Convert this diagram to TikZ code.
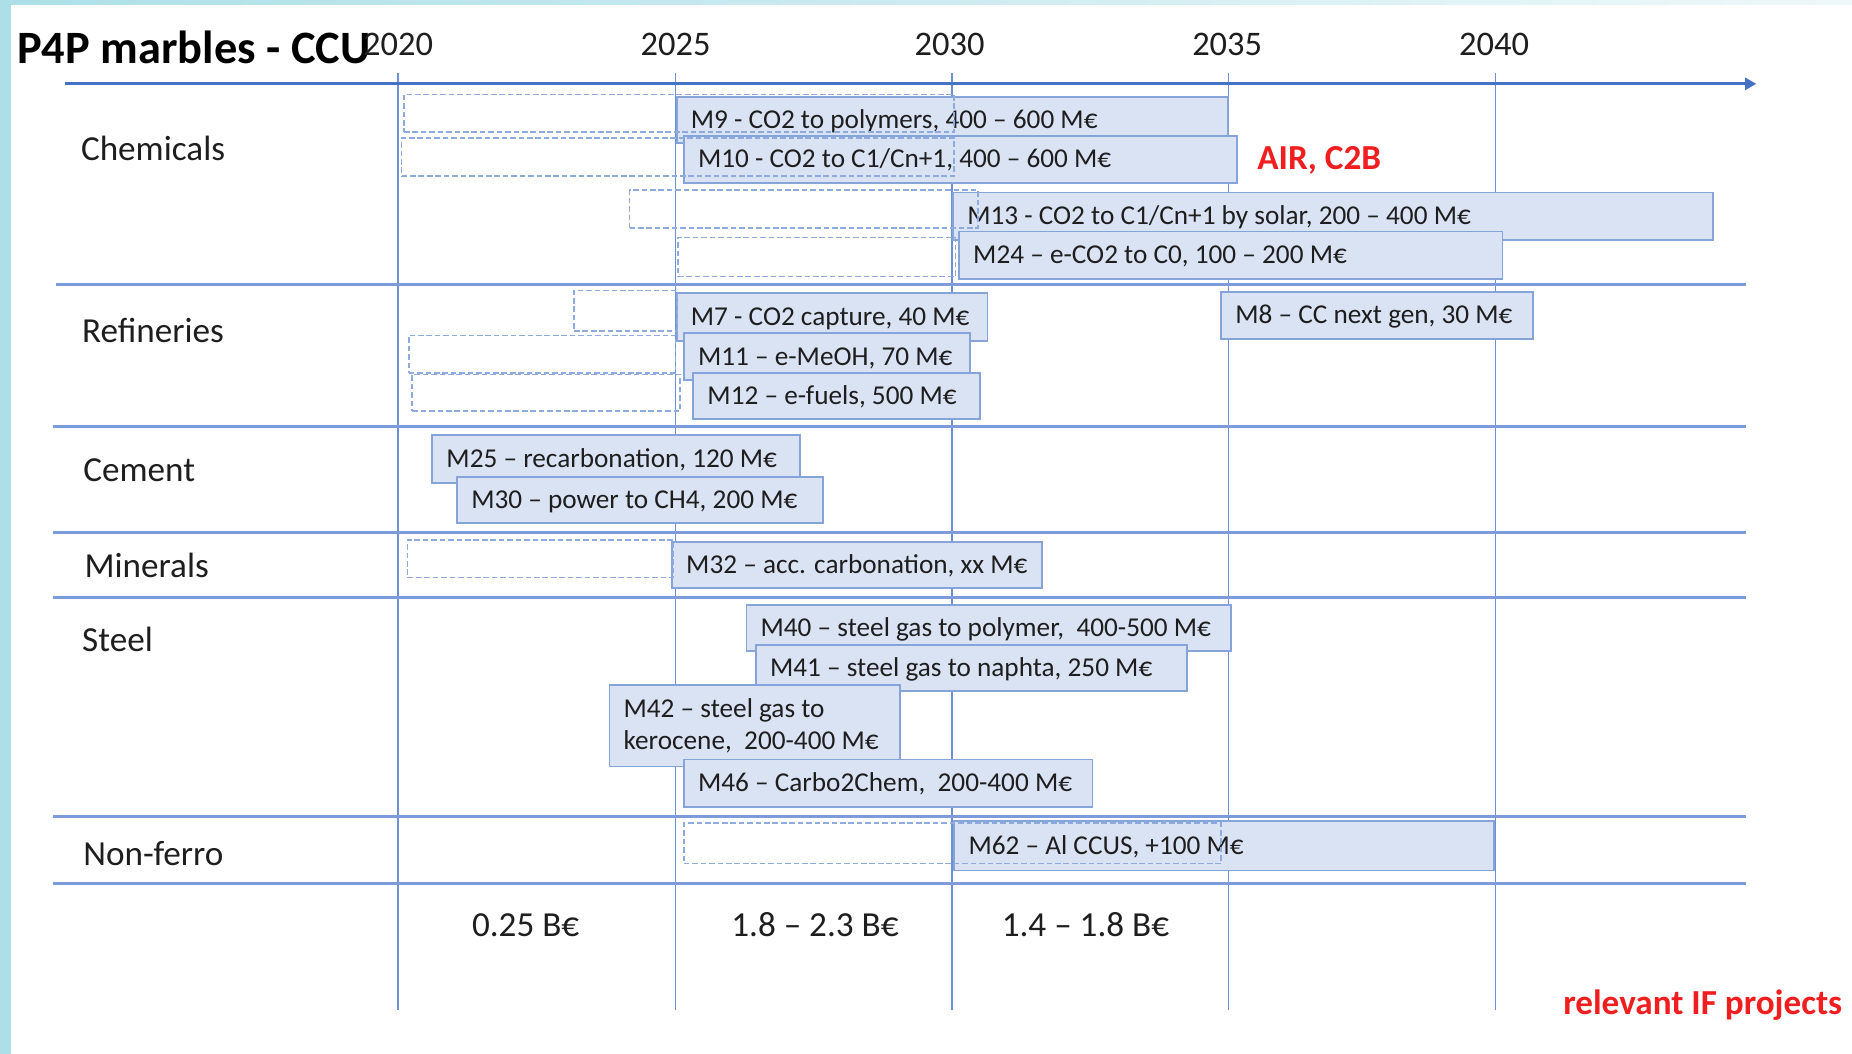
\documentclass[tikz,border=0pt]{standalone}
\usepackage{fontspec}
\setmainfont{Carlito}
\usetikzlibrary{arrows.meta}

\definecolor{axisblue}{HTML}{4472C4}
\definecolor{gridblue}{HTML}{6D8FD3}
\definecolor{sepblue}{HTML}{7D9BDA}
\definecolor{boxfill}{HTML}{DAE3F3}
\definecolor{boxline}{HTML}{86A3DA}
\definecolor{dashline}{HTML}{8FAADC}
\definecolor{tealedge}{HTML}{ADDFE8}
\definecolor{tealpale}{HTML}{EEF8FA}
\definecolor{alertred}{HTML}{F01E1E}
\definecolor{inkgray}{HTML}{1E1E1E}

% project bar: name, left, top, right, bottom, text
\newcommand\projbox[6]{%
  \pgfmathsetlengthmacro\pbW{(#4-#2)*0.011811cm}%
  \pgfmathsetlengthmacro\pbH{(#5-#3)*0.011811cm}%
  \pgfmathsetlengthmacro\pbT{(#4-#2-24)*0.011811cm}%
  \node[projbar, minimum width=\pbW, minimum height=\pbH, anchor=north west]
    (#1) at (#2,#3) {\makebox[\pbT][l]{#6}};}

% planned (dashed) period: name, left, top, right, bottom
\newcommand\planbox[5]{%
  \pgfmathsetlengthmacro\pbW{(#4-#2)*0.011811cm}%
  \pgfmathsetlengthmacro\pbH{(#5-#3)*0.011811cm}%
  \node[planbar, minimum width=\pbW, minimum height=\pbH, anchor=north west]
    (#1) at (#2,#3) {};}

\begin{document}
\begin{tikzpicture}[x=0.011811cm, y=-0.011811cm,
  gridline/.style={gridblue, line width=0.45pt},
  sepline/.style={sepblue, line width=0.9pt},
  axisline/.style={axisblue, line width=0.9pt, -{Triangle[length=3.2pt,width=3.4pt]}},
  projbar/.style={draw=boxline, fill=boxfill, line width=0.5pt, inner xsep=0.1417cm,
    inner ysep=0pt, outer sep=0pt, text=inkgray, text height=0.68em, text depth=0.2em,
    font=\fontsize{7.75}{9.1}\selectfont},
  planbar/.style={draw=dashline, line width=0.5pt, dash pattern=on 1.6pt off 0.8pt,
    inner sep=0pt, outer sep=0pt},
  rowlabel/.style={anchor=west, inner sep=0pt, text=inkgray, font=\fontsize{10}{12}\selectfont},
  yearlabel/.style={inner sep=0pt, text=inkgray, font=\fontsize{9.8}{12}\selectfont},
  costlabel/.style={inner sep=0pt, text=inkgray, font=\fontsize{10}{12}\selectfont},
  alertlabel/.style={anchor=west, inner sep=0pt, text=alertred, font=\bfseries\fontsize{10}{12}\selectfont}
]
\useasboundingbox (0,0) rectangle (1568,892);

% page background with teal edges
\fill[white] (0,0) rectangle (1568,892);
\fill[tealedge] (0,0) rectangle (9.3,892);
\shade[left color=tealedge, right color=tealpale] (0,0) rectangle (1568,3.4);

% year grid
\foreach \gx in {337,572,806,1040,1266}
  \draw[gridline] (\gx,62) -- (\gx,855);

% time axis
\draw[axisline] (55,71) -- (1487,71);

% sector separators
\draw[sepline] (47,241) -- (1478,241);
\foreach \sy in {361,451,506,691,748}
  \draw[sepline] (45,\sy) -- (1478,\sy);

% Chemicals
\projbox{m9}{573}{82}{1040}{121}{M9 - CO2 to polymers, 400 -- 600 M€}
\projbox{m10}{579}{115}{1047}{155}{M10 - CO2 to C1/Cn+1, 400 -- 600 M€}
\projbox{m13}{807}{163}{1450}{203}{M13 - CO2 to C1/Cn+1 by solar, 200 -- 400 M€}
\projbox{m24}{812}{196}{1272}{236}{M24 -- e-CO2 to C0, 100 -- 200 M€}

% Refineries
\projbox{m7}{573}{248}{836}{289}{M7 - CO2 capture, 40 M€}
\projbox{m8}{1034}{247}{1298}{287}{M8 -- CC next gen, 30 M€}
\projbox{m11}{579}{282}{821}{322}{M11 -- e-MeOH, 70 M€}
\projbox{m12}{587}{316}{830}{355}{M12 -- e-fuels, 500 M€}

% Cement
\projbox{m25}{366}{368}{677}{409}{M25 -- recarbonation, 120 M€}
\projbox{m30}{387}{404}{697}{443}{M30 -- power to CH4, 200 M€}

% Minerals
\projbox{m32}{569}{459}{882}{498}{M32 -- acc. carbonation, xx M€}

% Steel
\projbox{m40}{632}{512}{1042}{551}{M40 -- steel gas to polymer, \ 400-500 M€}
\projbox{m41}{640}{546}{1005}{585}{M41 -- steel gas to naphta, 250 M€}
\projbox{m42}{516}{580}{762}{649}{\begin{tabular}{@{}l@{}}M42 -- steel gas to\\kerocene, \ 200-400 M€\end{tabular}}
\projbox{m46}{579}{643}{925}{683}{M46 -- Carbo2Chem, \ 200-400 M€}

% Non-ferro
\projbox{m62}{808}{695}{1265}{737}{M62 -- Al CCUS, +100 M€}

% planned periods
\planbox{p9}{342}{80}{808}{112}
\planbox{p10}{340}{117}{808}{149}
\planbox{p13}{533}{161}{828}{193}
\planbox{p24}{574}{201}{809}{234}
\planbox{p7}{486}{246}{573}{280}
\planbox{p11}{346}{284}{572}{316}
\planbox{p12}{349}{317}{576}{348}
\planbox{p32}{345}{457}{570}{489}
\planbox{p62}{579}{697}{1034}{731}

% title and years
\node[anchor=west, inner sep=0pt, text=black, font=\bfseries\fontsize{13.2}{15}\selectfont] (title) at (14,40) {P4P marbles - CCU};
\node[yearlabel] (y2020) at (337,38) {2020};
\node[yearlabel] (y2025) at (572,38) {2025};
\node[yearlabel] (y2030) at (804,38) {2030};
\node[yearlabel] (y2035) at (1039,38) {2035};
\node[yearlabel] (y2040) at (1265,38) {2040};

% sectors
\node[rowlabel] (chem) at (68,126) {Chemicals};
\node[rowlabel] (refi) at (69,280) {Refineries};
\node[rowlabel] (ceme) at (70,398) {Cement};
\node[rowlabel] (mine) at (71,479) {Minerals};
\node[rowlabel] (stee) at (69,541) {Steel};
\node[rowlabel] (nonf) at (70,723) {Non-ferro};

% budgets per period
\node[costlabel] (cost1) at (445,783) {0.25 B€};
\node[costlabel] (cost2) at (690,783) {1.8 -- 2.3 B€};
\node[costlabel] (cost3) at (919,783) {1.4 -- 1.8 B€};

% highlights
\node[alertlabel] (air) at (1064,136) {AIR, C2B};
\node[alertlabel] (relevant) at (1323,851) {relevant IF projects};
\end{tikzpicture}
\end{document}
